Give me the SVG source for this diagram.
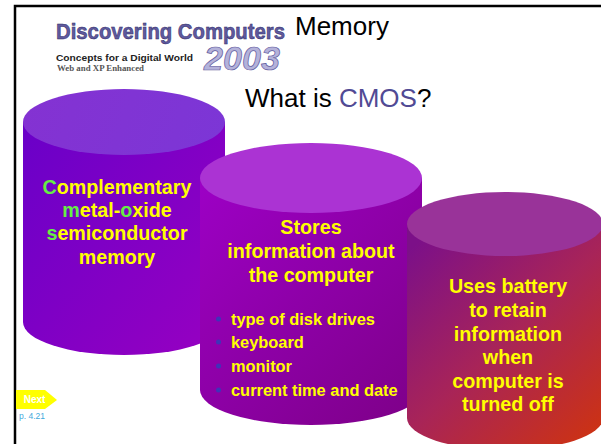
<svg xmlns="http://www.w3.org/2000/svg" width="601" height="444" viewBox="0 0 601 444">
<defs>
<linearGradient id="g1" gradientUnits="userSpaceOnUse" x1="23" y1="130" x2="300" y2="340"><stop offset="0" stop-color="#6a00c8"/><stop offset="1" stop-color="#a000c0"/></linearGradient>
<linearGradient id="g2" gradientUnits="userSpaceOnUse" x1="200" y1="190" x2="420" y2="420"><stop offset="0" stop-color="#9c00c4"/><stop offset="1" stop-color="#7e0088"/></linearGradient>
<linearGradient id="g3" gradientUnits="userSpaceOnUse" x1="420" y1="240" x2="600" y2="430"><stop offset="0" stop-color="#7c1088"/><stop offset="0.5" stop-color="#a82458"/><stop offset="1" stop-color="#cc3214"/></linearGradient>
<linearGradient id="t1" gradientUnits="userSpaceOnUse" x1="23" y1="89" x2="225" y2="155"><stop offset="0" stop-color="#8432d2"/><stop offset="1" stop-color="#7c36d6"/></linearGradient>
</defs>
<style>
.b{font-family:"Liberation Sans",Arial,sans-serif;font-weight:bold;font-size:19.700px;fill:#ffff00;text-anchor:middle}
.l{font-family:"Liberation Sans",Arial,sans-serif;font-weight:bold;font-size:16.400px;fill:#ffff00}
.d{fill:#3f33b8}
.h{font-family:"Liberation Sans",Arial,sans-serif;fill:#000}
.g{fill:#66ee44}
</style>
<rect width="601" height="444" fill="#fff"/>
<path d="M15 444V6H601" fill="none" stroke="#000" stroke-width="2.500"/>
<g id="logo">
<text x="56" y="39" font-family="'Liberation Sans',sans-serif" font-weight="bold" font-size="21.500" textLength="229" lengthAdjust="spacingAndGlyphs" fill="#5f5a9e" stroke="#2e2a66" stroke-width="0.500">Discovering Computers</text>
<text x="56" y="61" font-family="'Liberation Sans',sans-serif" font-weight="bold" font-size="9.500" textLength="137" lengthAdjust="spacingAndGlyphs" fill="#222">Concepts for a Digital World</text>
<text x="57" y="71" font-family="'Liberation Serif',serif" font-weight="bold" font-size="7.500" textLength="87" lengthAdjust="spacingAndGlyphs" fill="#555">Web and XP Enhanced</text>
<text x="204" y="70" font-family="'Liberation Sans',sans-serif" font-weight="bold" font-style="italic" font-size="34" textLength="76" lengthAdjust="spacingAndGlyphs" fill="#b4b2da" stroke="#5f5a9e" stroke-width="0.700">2003</text>
</g>
<g id="title"><text class="h" x="295" y="35" font-size="26">Memory</text></g>
<g id="subtitle"><text class="h" x="245" y="107" font-size="26">What is <tspan fill="#514a94">CMOS</tspan>?</text></g>
<g id="cylinder1">
<path d="M23 122V322A101 33 0 0 0 225 322V122Z" fill="url(#g1)"/>
<ellipse cx="124" cy="122" rx="101" ry="33" fill="url(#t1)"/>
<text class="b" x="117" y="194"><tspan class="g">C</tspan>omplementary</text>
<text class="b" x="117" y="217"><tspan class="g">m</tspan>etal-<tspan class="g">o</tspan>xide</text>
<text class="b" x="117" y="240"><tspan class="g">s</tspan>emiconductor</text>
<text class="b" x="117" y="264">memory</text>
</g>
<g id="cylinder2">
<path d="M200 178V390A111 35 0 0 0 422 390V178Z" fill="url(#g2)"/>
<ellipse cx="311" cy="178" rx="111" ry="35" fill="#ab33d3"/>
<text class="b" x="311" y="234">Stores</text>
<text class="b" x="311" y="258">information about</text>
<text class="b" x="311" y="282">the computer</text>
<circle class="d" cx="218.500" cy="319" r="2.500"/><text class="l" x="231" y="325">type of disk drives</text>
<circle class="d" cx="218.500" cy="342" r="2.500"/><text class="l" x="231" y="348">keyboard</text>
<circle class="d" cx="218.500" cy="366" r="2.500"/><text class="l" x="231" y="372">monitor</text>
<circle class="d" cx="218.500" cy="390" r="2.500"/><text class="l" x="231" y="396">current time and date</text>
</g>
<g id="cylinder3">
<path d="M407 224V418A98 32 0 0 0 603 418V224Z" fill="url(#g3)"/>
<ellipse cx="505" cy="224" rx="98" ry="32" fill="#993399"/>
<text class="b" x="508" y="293">Uses battery</text>
<text class="b" x="508" y="317">to retain</text>
<text class="b" x="508" y="341">information</text>
<text class="b" x="508" y="364">when</text>
<text class="b" x="508" y="388">computer is</text>
<text class="b" x="508" y="411">turned off</text>
</g>
<g id="next">
<path d="M16 390H45L57 400L45 409H16Z" fill="#ffff00"/>
<text x="34.500" y="403" text-anchor="middle" font-family="'Liberation Sans',sans-serif" font-weight="bold" font-size="10" fill="#fff">Next</text>
<text x="19" y="419" font-family="'Liberation Sans',sans-serif" font-size="8.500" fill="#3fa9dc">p. 4.21</text>
</g>
</svg>
